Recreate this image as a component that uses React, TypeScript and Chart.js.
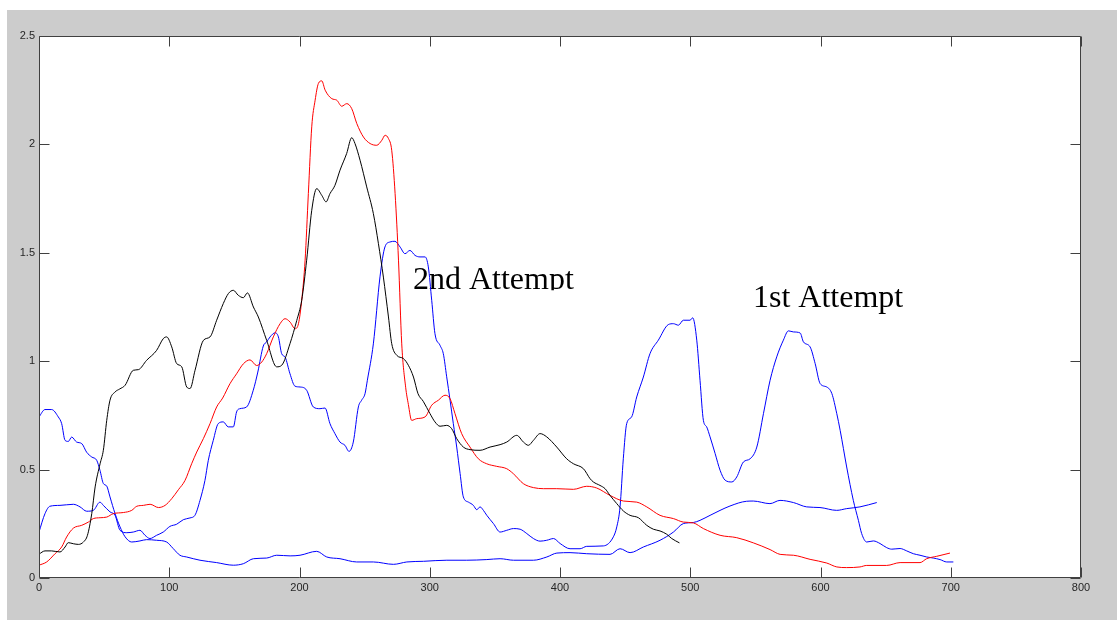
import React, { useEffect, useRef } from "react";
import { Chart, registerables } from "chart.js";

Chart.register(...registerables);

// ---- data ----
const blackX = [0, 4.6, 9.7, 16.1, 20, 22.5, 26.4, 30.3, 34.1, 37.2, 40.5, 43.1, 46.9, 49.4, 52, 54.5, 58.4, 62, 66.1, 72.4, 76.3, 82.6, 90.3, 95.4, 98, 101.9, 105.7, 109.6, 113.4, 116, 119.8, 126.2, 131.3, 136.4, 141.5, 145.4, 149.2, 153, 156.9, 160, 164.6, 168.4, 174.8, 182.5, 186.3, 192.7, 197.9, 201.7, 205.5, 209.4, 213.2, 217.1, 220.4, 223.4, 227.2, 231.1, 236.2, 240.1, 242.6, 246.5, 251.6, 256.7, 260.6, 264.4, 268.3, 270.8, 274.7, 279.8, 283.6, 287.5, 291, 295, 300.2, 304, 307.9, 313, 316.8, 320.7, 325.8, 330.9, 338.6, 346.3, 354, 359.1, 366.8, 371.9, 375.7, 379.6, 384.7, 389.8, 397.5, 405.1, 410.3, 418, 423.1, 425.6, 430.7, 434.6, 438.4, 443.6, 448.7, 453.8, 460.2, 466.6, 471.7, 476.8, 481.9, 485.8, 491.7];
const blackY = [0.11, 0.125, 0.125, 0.12, 0.143, 0.163, 0.158, 0.155, 0.166, 0.197, 0.297, 0.42, 0.527, 0.589, 0.727, 0.82, 0.858, 0.872, 0.889, 0.958, 0.961, 1.004, 1.05, 1.104, 1.112, 1.066, 0.989, 0.974, 0.881, 0.874, 0.958, 1.096, 1.112, 1.189, 1.266, 1.312, 1.327, 1.304, 1.293, 1.315, 1.25, 1.204, 1.096, 0.974, 0.981, 1.081, 1.188, 1.281, 1.466, 1.696, 1.796, 1.765, 1.735, 1.773, 1.811, 1.881, 1.958, 2.031, 2.004, 1.927, 1.804, 1.681, 1.542, 1.388, 1.204, 1.081, 1.027, 1.012, 0.981, 0.927, 0.85, 0.815, 0.758, 0.72, 0.7, 0.704, 0.689, 0.643, 0.604, 0.592, 0.589, 0.604, 0.615, 0.627, 0.658, 0.627, 0.612, 0.635, 0.666, 0.651, 0.604, 0.55, 0.527, 0.504, 0.458, 0.443, 0.427, 0.412, 0.381, 0.343, 0.309, 0.289, 0.278, 0.243, 0.225, 0.217, 0.202, 0.182, 0.162];

const redX = [0, 5.9, 12.3, 17.4, 21.2, 26.4, 32.8, 37.9, 41.7, 46.9, 52, 57.1, 64.8, 71.2, 75.1, 80.2, 85.3, 91.7, 96.8, 101.9, 107, 112.1, 117.2, 121.1, 126.2, 131.3, 136.4, 141, 146.6, 151.7, 156.9, 162, 167.1, 171, 174.8, 179.9, 185.1, 188.9, 192.7, 196.6, 199.2, 201.7, 204.3, 206.8, 209.4, 212, 214.5, 217.1, 219.7, 224.8, 228.6, 232.4, 236.3, 240.1, 244, 249.1, 254.2, 259.3, 263.2, 265.7, 268.3, 270.8, 273.4, 276, 278.5, 281.5, 283.6, 286.1, 290, 296.4, 301.5, 306.6, 311.7, 315.6, 319.4, 324.5, 330.9, 337.3, 343.7, 351.4, 359.1, 364.2, 371.9, 379.6, 387.3, 397.5, 410.3, 420.5, 428.2, 438.4, 448.7, 458.9, 466.6, 476.8, 487.1, 494.7, 502.4, 510.1, 522.9, 535.7, 548.5, 561.3, 569, 579.2, 592, 604.8, 612.5, 620.1, 630.3, 635.5, 650.8, 661.1, 676.4, 681.5, 689.2, 699.4];
const redY = [0.059, 0.074, 0.112, 0.143, 0.189, 0.23, 0.243, 0.258, 0.274, 0.278, 0.281, 0.297, 0.302, 0.312, 0.331, 0.335, 0.34, 0.325, 0.335, 0.366, 0.407, 0.45, 0.527, 0.581, 0.643, 0.712, 0.789, 0.83, 0.896, 0.942, 0.988, 1.006, 0.98, 0.996, 1.035, 1.112, 1.173, 1.196, 1.181, 1.15, 1.173, 1.281, 1.466, 1.773, 2.081, 2.204, 2.281, 2.293, 2.25, 2.211, 2.204, 2.176, 2.188, 2.165, 2.096, 2.034, 2.004, 1.996, 2.019, 2.042, 2.027, 1.973, 1.773, 1.466, 1.08, 0.88, 0.8, 0.727, 0.735, 0.743, 0.797, 0.82, 0.843, 0.827, 0.758, 0.666, 0.604, 0.55, 0.527, 0.515, 0.504, 0.481, 0.435, 0.417, 0.412, 0.412, 0.409, 0.423, 0.415, 0.381, 0.355, 0.35, 0.328, 0.289, 0.274, 0.258, 0.254, 0.228, 0.197, 0.186, 0.162, 0.131, 0.109, 0.105, 0.086, 0.069, 0.051, 0.048, 0.051, 0.058, 0.058, 0.071, 0.071, 0.089, 0.1, 0.115];

const blueAX = [0, 4.6, 9.7, 14.8, 17.4, 20, 22.5, 25.1, 28.9, 32.8, 36.6, 40.5, 44.3, 46.8, 49.4, 52, 54.5, 58.4, 62.2, 66.1, 71.2, 77.5, 82.6, 90.3, 98, 103, 108.2, 113.3, 123.6, 136.4, 149.2, 156.9, 164.6, 174.8, 182.5, 192.8, 200.4, 213.2, 220.9, 231.1, 243.9, 256.7, 272.1, 282.4, 295.2, 313.1, 328.4, 343.8, 354, 364.3, 379.6, 389.9, 397.6, 407.7, 420.5, 438.4, 446.1, 453.8, 464, 476.8, 487.1, 494.7, 502.4, 507.5, 515.2, 530.5, 543.3, 548.4, 561.2, 568.9, 579.2, 589.4, 599.6, 612.4, 620.1, 630.3, 643.2];
const blueAY = [0.743, 0.777, 0.777, 0.743, 0.712, 0.635, 0.63, 0.65, 0.627, 0.62, 0.58, 0.558, 0.543, 0.497, 0.436, 0.424, 0.374, 0.297, 0.236, 0.19, 0.166, 0.171, 0.177, 0.174, 0.166, 0.136, 0.105, 0.097, 0.082, 0.071, 0.059, 0.066, 0.089, 0.092, 0.105, 0.102, 0.105, 0.123, 0.097, 0.089, 0.074, 0.074, 0.063, 0.074, 0.077, 0.082, 0.082, 0.085, 0.089, 0.082, 0.082, 0.097, 0.115, 0.117, 0.112, 0.109, 0.135, 0.117, 0.143, 0.174, 0.212, 0.251, 0.256, 0.266, 0.289, 0.332, 0.354, 0.355, 0.343, 0.358, 0.348, 0.328, 0.325, 0.312, 0.32, 0.328, 0.348];

const blueBX = [0, 4.6, 8.4, 16.1, 26.4, 31.5, 36.6, 41.7, 46.8, 49.4, 54.5, 58.4, 62.2, 67.4, 72.4, 77.5, 81.4, 85.2, 90.3, 95.4, 100.5, 105.7, 110.8, 115.9, 119.7, 123.6, 127.4, 130, 133.8, 137.6, 141.5, 145.3, 149.2, 151.7, 154.3, 159.4, 164.5, 168, 172.2, 174.8, 177.4, 181.3, 183.8, 186.3, 189, 192.7, 196.5, 200.4, 205.5, 210.6, 215.7, 219.6, 223.4, 227.2, 231.1, 234.9, 238, 241.3, 245.2, 247.7, 250.3, 252.1, 256.7, 261.8, 265.6, 269.5, 273.3, 277.2, 281, 284.8, 288.7, 292.5, 296.4, 298.9, 301.5, 304, 307.9, 310.4, 313, 315.6, 318.1, 320.7, 323.3, 325.8, 329.7, 333.5, 336.1, 338.6, 341.2, 343.8, 348.9, 354, 359.1, 364.3, 369.4, 374.5, 379.6, 384.7, 389.8, 395, 400.1, 407.7, 415.4, 420.5, 433.3, 441, 443.6, 446.1, 448.6, 451.2, 455, 458.9, 464, 469.1, 475.5, 483.2, 487.1, 490.9, 494.7, 499.8, 501.9, 505, 507.5, 510.1, 512.6, 515.2, 519.1, 522.9, 526.8, 531.9, 535.7, 540.8, 546, 551.1, 556.2, 561.3, 566.4, 571.5, 575.4, 579.2, 584.4, 586.9, 592, 595.9, 599.7, 604.8, 608.7, 612.5, 615.1, 620.1, 625.2, 629.1, 631.6, 635.5, 640.6, 645.7, 650.8, 654.7, 661.1, 666.2, 671.3, 676.4, 681.5, 686.6, 691.8, 696.9, 702];
const blueBY = [0.212, 0.297, 0.331, 0.335, 0.34, 0.328, 0.308, 0.312, 0.35, 0.335, 0.305, 0.289, 0.22, 0.209, 0.212, 0.22, 0.197, 0.182, 0.197, 0.212, 0.238, 0.248, 0.269, 0.277, 0.289, 0.358, 0.45, 0.543, 0.635, 0.712, 0.72, 0.697, 0.697, 0.766, 0.781, 0.789, 0.866, 0.95, 1.07, 1.089, 1.112, 1.131, 1.112, 1.035, 1.018, 0.942, 0.885, 0.881, 0.866, 0.789, 0.781, 0.784, 0.712, 0.666, 0.627, 0.612, 0.584, 0.627, 0.789, 0.82, 0.85, 0.912, 1.08, 1.389, 1.527, 1.55, 1.553, 1.527, 1.496, 1.511, 1.488, 1.481, 1.481, 1.435, 1.281, 1.127, 1.073, 1.035, 0.928, 0.82, 0.712, 0.604, 0.482, 0.374, 0.35, 0.335, 0.315, 0.328, 0.312, 0.289, 0.251, 0.212, 0.22, 0.228, 0.225, 0.205, 0.182, 0.17, 0.174, 0.182, 0.159, 0.135, 0.135, 0.146, 0.148, 0.19, 0.236, 0.328, 0.55, 0.712, 0.743, 0.835, 0.927, 1.035, 1.097, 1.169, 1.173, 1.166, 1.189, 1.189, 1.2, 1.097, 0.912, 0.727, 0.697, 0.651, 0.574, 0.497, 0.451, 0.443, 0.466, 0.535, 0.55, 0.604, 0.758, 0.912, 1.02, 1.097, 1.14, 1.135, 1.13, 1.089, 1.066, 0.989, 0.897, 0.881, 0.851, 0.758, 0.681, 0.512, 0.358, 0.266, 0.205, 0.166, 0.171, 0.159, 0.14, 0.133, 0.136, 0.125, 0.112, 0.105, 0.097, 0.092, 0.085, 0.074, 0.074];

const xTickValues = [0, 100, 200, 300, 400, 500, 600, 700, 800];
const yTickValues = [0, 0.5, 1, 1.5, 2, 2.5];

const annotationTexts = ["2nd Attempt", "1st Attempt"];
const annotationX = [287.1, 548.2];
const annotationY = [1.332, 1.25];
const annotationClipY = [1.327, null];

const AXIS_COLOR = "#404040";
const LABEL_COLOR = "#262626";

const toPoints = (xs: number[], ys: number[]) => xs.map((x, i) => ({ x, y: ys[i] }));

const framePlugin = {
  id: "matlabFrame",
  beforeDraw(chart: any) {
    const { ctx, chartArea: a } = chart;
    ctx.save();
    ctx.fillStyle = "#ffffff";
    ctx.fillRect(a.left, a.top, a.right - a.left, a.bottom - a.top);
    ctx.restore();
  },
  beforeDatasetsDraw(chart: any) {
    const { ctx, chartArea: a, scales } = chart;
    ctx.save();
    ctx.fillStyle = "#000000";
    ctx.font = '32px "Liberation Serif", "Times New Roman", serif';
    ctx.textBaseline = "alphabetic";
    ctx.textAlign = "left";
    annotationTexts.forEach((t, i) => {
      const px = scales.x.getPixelForValue(annotationX[i]);
      const py = scales.y.getPixelForValue(annotationY[i]);
      ctx.save();
      const clip = annotationClipY[i];
      if (clip !== null) {
        const cy = scales.y.getPixelForValue(clip as number);
        ctx.beginPath();
        ctx.rect(a.left, a.top, a.right - a.left, cy - a.top);
        ctx.clip();
      }
      ctx.fillText(t, px, py);
      ctx.restore();
    });
    ctx.restore();
  },
  afterDraw(chart: any) {
    const { ctx, chartArea: a, scales } = chart;
    const L = Math.round(a.left) + 0.5;
    const R = Math.round(a.right) - 0.5;
    const T = Math.round(a.top) + 0.5;
    const B = Math.round(a.bottom) - 0.5;
    ctx.save();
    ctx.strokeStyle = AXIS_COLOR;
    ctx.lineWidth = 1;
    ctx.beginPath();
    ctx.moveTo(L, T);
    ctx.lineTo(R, T);
    ctx.lineTo(R, B);
    ctx.lineTo(L, B);
    ctx.closePath();
    ctx.stroke();
    const len = 10;
    ctx.beginPath();
    xTickValues.forEach((v) => {
      const px = Math.round(scales.x.getPixelForValue(v)) + 0.5;
      ctx.moveTo(px, B);
      ctx.lineTo(px, B - len);
      ctx.moveTo(px, T);
      ctx.lineTo(px, T + len);
    });
    yTickValues.forEach((v) => {
      const py = Math.round(scales.y.getPixelForValue(v)) + 0.5;
      ctx.moveTo(L, py);
      ctx.lineTo(L + len, py);
      ctx.moveTo(R, py);
      ctx.lineTo(R - len, py);
    });
    ctx.stroke();
    ctx.restore();
  },
};

export default function App() {
  const canvasRef = useRef<HTMLCanvasElement | null>(null);

  useEffect(() => {
    const canvas = canvasRef.current;
    if (!canvas) return;
    const ds = (label: string, xs: number[], ys: number[], color: string) => ({
      label,
      data: toPoints(xs, ys),
      borderColor: color,
      backgroundColor: color,
      borderWidth: 1,
      pointRadius: 0,
      fill: false,
      cubicInterpolationMode: "monotone" as const,
    });
    const chart = new Chart(canvas, {
      type: "line",
      data: {
        datasets: [
          ds("Black", blackX, blackY, "#000000"),
          ds("Red", redX, redY, "#ff0000"),
          ds("Blue A", blueAX, blueAY, "#0000ff"),
          ds("Blue B", blueBX, blueBY, "#0000ff"),
        ],
      },
      options: {
        animation: false,
        responsive: false,
        maintainAspectRatio: false,
        devicePixelRatio: 1,
        layout: { padding: { top: 36, right: 36, left: 0, bottom: 0 } },
        plugins: { legend: { display: false }, tooltip: { enabled: false } },
        scales: {
          x: {
            type: "linear",
            min: 0,
            max: 800,
            afterFit: (s: any) => {
              s.height = 42;
            },
            afterBuildTicks: (s: any) => {
              s.ticks = xTickValues.map((v) => ({ value: v }));
            },
            ticks: {
              color: LABEL_COLOR,
              font: { family: '"Liberation Sans", Arial, sans-serif', size: 11 },
              padding: 3,
              maxRotation: 0,
              autoSkip: false,
              callback: (v: any) => String(v),
            },
            grid: { display: true, drawOnChartArea: false, drawTicks: false },
            border: { display: false },
          },
          y: {
            type: "linear",
            min: 0,
            max: 2.5,
            afterFit: (s: any) => {
              s.width = 39;
            },
            afterBuildTicks: (s: any) => {
              s.ticks = yTickValues.map((v) => ({ value: v }));
            },
            ticks: {
              color: LABEL_COLOR,
              font: { family: '"Liberation Sans", Arial, sans-serif', size: 11 },
              padding: 4,
              autoSkip: false,
              callback: (v: any) => String(v),
            },
            grid: { display: true, drawOnChartArea: false, drawTicks: false },
            border: { display: false },
          },
        },
      },
      plugins: [framePlugin],
    });
    return () => chart.destroy();
  }, []);

  return (
    <div
      style={{
        position: "fixed",
        left: 0,
        top: 0,
        width: 1117,
        height: 620,
        background: "#ffffff",
        overflow: "hidden",
      }}
    >
      <div
        style={{
          position: "absolute",
          left: 7,
          top: 10,
          width: 1110,
          height: 610,
          background: "#cccccc",
        }}
      />
      <canvas
        ref={canvasRef}
        width={1117}
        height={620}
        style={{ position: "absolute", left: 0, top: 0, width: 1117, height: 620 }}
      />
    </div>
  );
}
